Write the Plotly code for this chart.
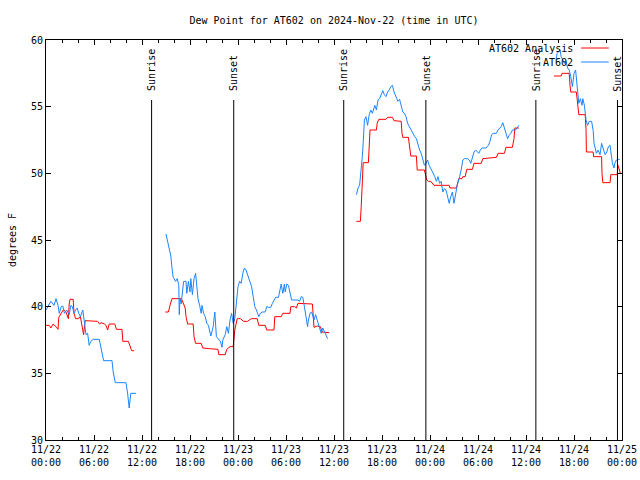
import pandas as pd
import plotly.graph_objects as go

BASE = pd.Timestamp("2024-11-22 00:00")

# Observed dew point (AT602), hours since 2024-11-22 00:00 UTC; None = gap
obs_hours = [
    0.0, 0.6, 1.0, 1.25, 1.5, 1.66, 1.9, 2.1, 2.3, 2.6, 2.9, 3.1, 3.3, 3.5, 3.7, 3.9, 4.1, 4.3, 4.6, 4.8,
    5.0, 5.2, 5.4, 5.6, 5.9, 6.66, 6.9, 7.2, 8.25, 8.4, 8.66, 10.0, 10.2, 10.4, 10.6, 11.25,
    None,
    15.0, 15.2, 15.4, 15.6, 15.75, 15.9, 16.2, 16.4, 16.6, 16.66, 16.75, 16.9, 17.2, 17.5, 17.6, 17.8,
    18.0, 18.1, 18.3, 18.5, 18.7, 18.8, 19.0, 19.2, 19.4, 19.5, 19.7, 19.9, 20.1, 20.3, 20.5, 20.6,
    20.9, 21.1, 21.3, 21.5, 21.8, 22.0, 22.1, 22.4, 22.6, 22.8, 23.0, 23.2, 23.4, 23.6, 23.8, 24.0,
    24.2, 24.4, 24.6, 24.8, 25.0, 25.2, 25.5, 25.7, 25.9, 26.1, 26.3, 26.6, 26.8, 27.0, 27.4, 27.6,
    27.8, 28.1, 28.3, 28.5, 28.7, 29.06, 29.2, 29.4, 29.6, 29.8, 29.9, 30.1, 30.3, 30.5, 30.7, 31.5,
    31.7, 31.9, 32.1, 32.3, 32.5, 32.7, 32.8, 33.0, 33.2, 33.5, 33.7, 33.9, 34.0, 34.2, 34.4, 34.6,
    34.8, 35.0, 35.2,
    None,
    38.8, 39.0, 39.2, 39.3, 39.5, 39.6, 39.75, 39.8, 40.0, 40.2, 40.4, 40.6, 40.8, 41.1, 41.3, 41.5,
    41.7, 41.9, 42.1, 42.3, 42.5, 42.7, 42.9, 43.1, 43.3, 43.5, 43.8, 44.0, 44.2, 44.4, 44.6, 44.8,
    45.0, 45.2, 45.5, 45.7, 45.9, 46.1, 46.3, 46.5, 46.7, 46.9, 47.1, 47.3, 47.5, 47.7, 47.9, 48.2,
    48.4, 48.6, 48.8, 49.0, 49.2, 49.4, 49.6, 49.8, 50.0, 50.2, 50.4, 50.6, 50.8, 51.0, 51.2, 51.4,
    51.7, 51.9, 52.1, 52.3, 52.7, 52.9, 53.1, 53.3, 53.5, 53.7, 53.9, 54.1, 54.3, 54.5, 55.0, 55.3,
    55.5, 55.7, 55.9, 56.3, 56.5, 56.7, 56.9, 57.1, 57.3, 57.5, 57.7, 57.9, 58.1, 58.3, 58.7, 58.9,
    59.1,
    None,
    63.75, 63.9, 64.25, 64.4, 64.6, 64.8, 65.0, 65.2, 65.4, 65.6, 65.8, 66.0, 66.2, 66.3, 66.5, 66.6,
    66.8, 67.0, 67.1, 67.3, 67.5, 67.7, 67.9, 68.2, 68.4, 68.5, 68.8, 69.0, 69.25, 69.45, 69.7, 69.9,
    70.1, 70.3, 70.5, 70.6, 70.8, 71.0, 71.1, 71.3, 71.7,
]
obs_vals = [
    39.75, 40.4, 40.1, 40.6, 40.1, 39.5, 40.0, 40.05, 39.5, 39.75, 39.4, 40.1, 40.0, 39.5, 39.75, 39.9, 39.5, 39.25, 39.75, 39.0,
    37.9, 38.0, 37.1, 37.4, 37.55, 37.55, 36.75, 35.95, 35.95, 35.1, 34.3, 34.3, 33.5, 32.4, 33.5, 33.5,
    None,
    45.45, 44.8, 44.3, 43.8, 42.9, 42.2, 41.9, 42.1, 41.6, 39.4, 40.6, 40.2, 41.9, 41.9, 41.0, 41.9,
    41.1, 42.1, 40.9, 42.1, 42.5, 41.6, 40.6, 40.1, 39.5, 40.1, 39.5, 39.25, 38.75, 38.6, 38.0, 37.8,
    38.5, 39.6, 37.75, 37.6, 37.4, 36.95, 37.5, 37.9, 38.5, 38.0, 39.0, 39.5, 38.75, 39.1, 40.6, 41.5,
    41.9, 41.75, 42.5, 42.9, 42.75, 42.4, 41.9, 41.5, 40.75, 40.0, 39.75, 39.25, 39.5, 39.6, 39.6, 40.0,
    39.95, 39.95, 40.25, 40.5, 40.7, 40.7, 41.25, 41.7, 41.0, 41.7, 41.1, 41.7, 41.6, 41.1, 40.5, 40.5,
    40.4, 40.75, 40.7, 40.0, 39.1, 38.5, 39.0, 39.5, 39.6, 39.0, 39.4, 39.0, 38.75, 38.5, 38.0, 38.4,
    38.1, 37.9, 37.6,
    None,
    48.4, 48.9, 49.1, 49.6, 51.0, 51.75, 53.25, 54.0, 54.25, 53.6, 54.4, 54.75, 54.5, 55.1, 54.75, 55.5,
    55.6, 55.9, 56.2, 55.9, 55.75, 56.1, 56.25, 56.5, 56.6, 56.1, 55.6, 55.4, 55.55, 55.0, 54.6, 54.5,
    54.25, 53.75, 53.4, 53.25, 53.0, 52.75, 52.6, 52.1, 51.75, 51.5, 51.1, 50.6, 50.75, 51.0, 50.6, 50.25,
    50.0, 49.75, 49.4, 49.75, 49.25, 49.4, 48.6, 48.85, 48.75, 48.1, 47.75, 48.25, 48.6, 47.75, 48.6, 49.1,
    49.75, 50.25, 51.0, 51.1, 51.1, 51.0, 50.75, 51.1, 51.6, 51.75, 51.6, 51.5, 51.75, 51.9, 51.9, 52.1,
    52.4, 52.9, 53.0, 53.0, 53.25, 53.4, 53.5, 53.8, 53.4, 52.9, 52.6, 52.85, 53.0, 53.25, 53.25, 53.4,
    53.6,
    None,
    58.5, 59.0, 59.25, 58.75, 58.5, 58.25, 58.4, 57.9, 57.75, 57.25, 56.5, 57.5, 57.75, 57.0, 55.6, 55.25,
    55.6, 55.1, 55.6, 55.1, 54.0, 53.6, 53.9, 53.9, 53.2, 52.25, 51.5, 51.75, 51.4, 52.25, 51.75, 51.4,
    51.6, 52.0, 52.1, 51.5, 50.75, 50.4, 50.75, 51.0, 51.05,
]

# Analysis dew point (AT602 Analysis)
ana_hours = [
    0.0, 0.4, 0.6, 0.9, 1.25, 1.5, 1.6, 1.9, 2.2, 2.5, 2.8, 2.9, 3.0, 3.4, 3.5, 3.7, 4.0, 4.3, 4.6, 4.7,
    4.9, 5.8, 6.45, 6.7, 6.9, 7.3, 7.5, 7.7, 7.9, 8.6, 8.8, 9.5, 9.6, 10.3, 10.5, 10.7, 11.0,
    None,
    14.9, 15.3, 15.5, 15.75, 16.9, 17.0, 17.4, 17.5, 17.7, 18.4, 18.5, 18.7, 19.4, 19.6, 20.4, 21.5,
    21.6, 22.4, 22.6, 23.0, 23.4, 23.6, 23.9, 24.3, 24.7, 25.2, 25.4, 25.7, 26.4, 26.6, 27.4, 27.6,
    28.5, 28.6, 29.4, 29.6, 30.5, 30.6, 31.1, 31.3, 31.5, 31.9, 32.2, 33.3, 33.5, 33.9, 34.3, 34.5,
    35.4,
    None,
    38.8, 39.3, 39.4, 39.5, 39.6, 39.65, 40.3, 40.4, 40.5, 41.3, 41.4, 41.6, 42.5, 42.7, 43.3, 43.5,
    44.4, 44.5, 44.6, 45.3, 45.5, 45.6, 46.3, 46.4, 47.3, 47.4, 47.6, 47.8, 48.1, 48.5, 50.4, 50.5,
    51.3, 51.6, 52.0, 52.1, 52.4, 52.6, 53.3, 53.5, 54.4, 54.6, 56.3, 56.5, 57.3, 57.5, 58.3, 58.5,
    58.6, 59.1,
    None,
    63.5, 64.4, 64.5, 65.4, 65.5, 65.6, 66.3, 66.45, 66.6, 67.4, 67.5, 67.55, 68.4, 68.45, 69.45, 69.5,
    69.6, 70.5, 70.6, 71.4, 71.5, 71.8,
]
ana_vals = [
    38.6, 38.6, 38.4, 38.7, 38.5, 38.3, 39.2, 39.5, 39.8, 39.6, 39.1, 40.2, 40.55, 40.55, 39.5, 39.1, 39.1, 39.25, 38.25, 37.9,
    38.95, 38.95, 38.9, 38.7, 38.8, 38.7, 38.6, 38.25, 38.7, 38.7, 38.3, 38.3, 37.4, 37.4, 37.0, 36.7, 36.7,
    None,
    39.6, 39.6, 40.1, 40.6, 40.6, 40.5, 39.9, 39.25, 38.7, 38.7, 37.75, 37.25, 37.25, 36.9, 36.85, 36.8,
    36.4, 36.4, 36.8, 37.0, 37.0, 38.25, 39.1, 39.1, 38.9, 38.9, 39.0, 39.1, 39.1, 38.6, 38.6, 38.25,
    38.25, 39.25, 39.25, 39.5, 39.5, 40.0, 40.0, 39.9, 40.25, 40.25, 40.2, 40.2, 38.45, 38.55, 38.5, 38.1,
    38.05,
    None,
    46.4, 46.4, 47.5, 49.5, 50.5, 50.8, 50.8, 52.4, 53.25, 53.25, 53.75, 54.05, 54.05, 54.2, 54.2, 53.95,
    53.9, 53.0, 52.7, 52.7, 51.6, 51.3, 51.3, 50.25, 50.25, 49.9, 49.5, 49.4, 49.4, 49.1, 49.1, 48.9,
    48.9, 49.6, 49.6, 49.75, 49.75, 50.3, 50.3, 50.75, 50.75, 51.1, 51.2, 51.5, 51.5, 51.95, 51.95, 52.6,
    53.4, 53.4,
    None,
    57.3, 57.3, 57.5, 57.5, 56.6, 56.1, 56.1, 55.4, 54.4, 54.4, 53.3, 51.6, 51.6, 51.25, 51.25, 50.0,
    49.3, 49.3, 49.9, 49.9, 50.6, 50.0,
]

sun_labels = ["Sunrise", "Sunset", "Sunrise", "Sunset", "Sunrise", "Sunset"]
sun_times = ["2024-11-22 13:12", "2024-11-22 23:28", "2024-11-23 13:13",
             "2024-11-23 23:29", "2024-11-24 13:14", "2024-11-24 23:26"]

series_names = ["AT602 Analysis", "AT602"]
series_colors = ["#ff0000", "#1a85ff"]


def to_time(hours):
    return [None if h is None else BASE + pd.Timedelta(hours=h) for h in hours]


FONT = dict(family="DejaVu Sans Mono", size=10, color="black")

fig = go.Figure()
fig.add_trace(go.Scatter(x=to_time(ana_hours), y=ana_vals, mode="lines", name=series_names[0],
                         line=dict(color=series_colors[0], width=1), connectgaps=False))
fig.add_trace(go.Scatter(x=to_time(obs_hours), y=obs_vals, mode="lines", name=series_names[1],
                         line=dict(color=series_colors[1], width=1), connectgaps=False))

for lab, t in zip(sun_labels, sun_times):
    fig.add_shape(type="line", xref="x", yref="y", x0=t, x1=t, y0=30, y1=55.5,
                  line=dict(color="black", width=1))
    fig.add_annotation(x=t, y=56.0, xref="x", yref="y", text=lab, textangle=-90,
                       showarrow=False, xanchor="center", yanchor="bottom", font=FONT)

# legend (text to the left of the line sample, gnuplot style)
leg_y = [0.98, 0.945]
for name, col, yy in zip(series_names, series_colors, leg_y):
    fig.add_annotation(x=0.918, y=yy, xref="paper", yref="paper", text=name, showarrow=False,
                       xanchor="right", yanchor="middle", font=FONT)
    fig.add_shape(type="line", xref="paper", yref="paper", x0=0.929, x1=0.977, y0=yy, y1=yy,
                  line=dict(color=col, width=1))

fig.update_layout(
    width=640, height=480,
    margin=dict(l=46, r=18, t=40, b=40, autoexpand=False),
    paper_bgcolor="white", plot_bgcolor="white",
    showlegend=False,
    font=FONT,
    title=dict(text="Dew Point for AT602 on 2024-Nov-22 (time in UTC)", x=0.5, xref="paper",
               xanchor="center", y=1 - 20 / 480, yanchor="middle", font=FONT, automargin=False),
)
fig.update_xaxes(
    type="date", range=["2024-11-22 00:00", "2024-11-25 00:00"], automargin=False,
    tick0="2024-11-22 00:00", dtick=6 * 3600 * 1000, tickformat="%m/%d<br>%H:%M",
    ticks="inside", ticklen=5, tickcolor="black", showline=True, linecolor="black", linewidth=1,
    mirror="ticks", showgrid=False, zeroline=False, tickfont=FONT,
    minor=dict(dtick=2 * 3600 * 1000, ticks="inside", ticklen=3, tickcolor="black", showgrid=False),
)
fig.update_yaxes(
    range=[30, 60], dtick=5, tick0=30, ticks="inside", ticklen=5, tickcolor="black", automargin=False,
    showline=True, linecolor="black", linewidth=1, mirror="ticks", showgrid=False, zeroline=False,
    tickfont=FONT, title=dict(text="degrees F", font=FONT, standoff=12),
)

fig.write_html("out.html", config={"displayModeBar": False},
               post_script="document.body.style.margin='0';document.body.style.overflow='hidden';")
